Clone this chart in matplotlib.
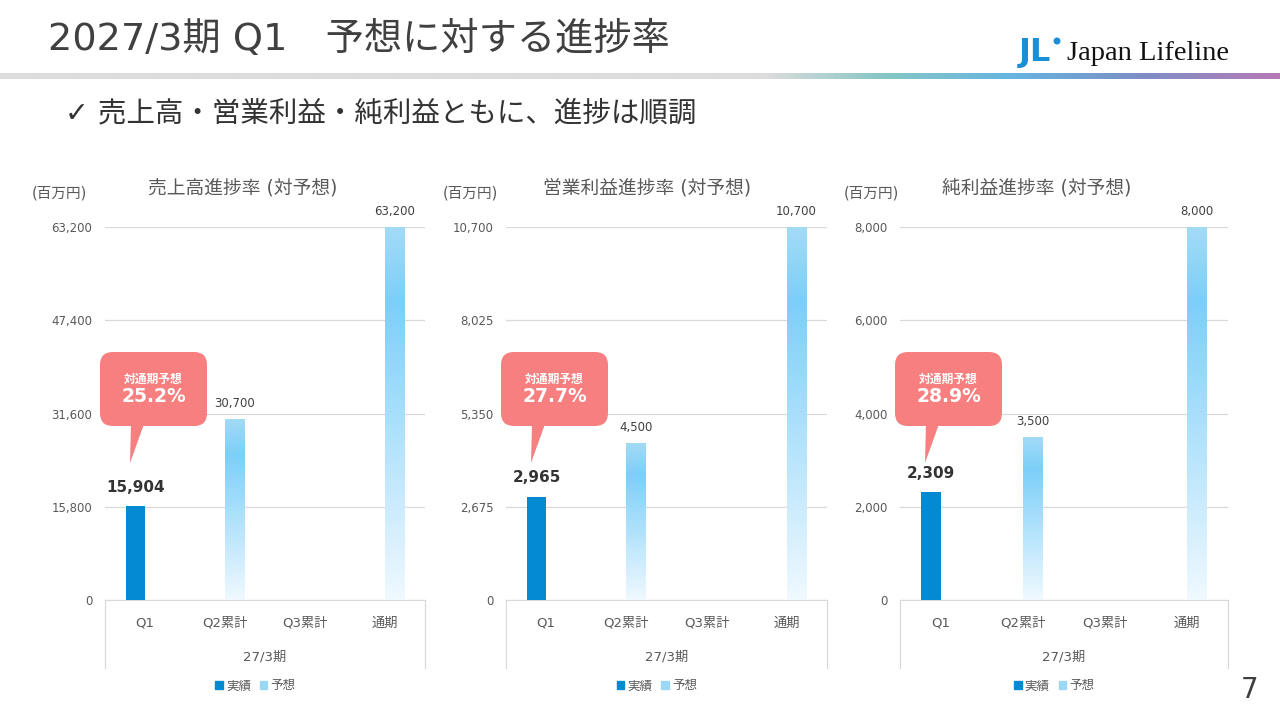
"""Progress vs forecast, FY2027/3 Q1 (three panel bar chart)"""

import numpy as np
import matplotlib.pyplot as plt
from matplotlib.colors import LinearSegmentedColormap
from matplotlib.patches import FancyBboxPatch, Polygon, Patch, Circle

# DejaVu for latin/digits (close to the Verdana-like look), CJK falls back to Noto
plt.rcParams['font.family'] = ['DejaVu Sans', 'Noto Sans CJK JP']

# ---- data ----
categories = ['Q1', 'Q2累計', 'Q3累計', '通期']
period_label = '27/3期'
chart_titles = ['売上高進捗率 (対予想)', '営業利益進捗率 (対予想)', '純利益進捗率 (対予想)']
unit_label = '(百万円)'
legend_labels = ['実績', '予想']

sales_actual = [15904, np.nan, np.nan, np.nan]
sales_forecast = [np.nan, 30700, np.nan, 63200]
op_actual = [2965, np.nan, np.nan, np.nan]
op_forecast = [np.nan, 4500, np.nan, 10700]
net_actual = [2309, np.nan, np.nan, np.nan]
net_forecast = [np.nan, 3500, np.nan, 8000]

sales_ticks = [0, 15800, 31600, 47400, 63200]
op_ticks = [0, 2675, 5350, 8025, 10700]
net_ticks = [0, 2000, 4000, 6000, 8000]

title_text = '2027/3期 Q1\u3000予想に対する進捗率'
subtitle_text = '✓ 売上高・営業利益・純利益ともに、進捗は順調'
callout_caption = '対通期予想'
page_number = '7'

# ---- style ----
ACTUAL_COLOR = '#038ad0'
FORECAST_SWATCH = '#9ad8f6'
CALLOUT_COLOR = '#f77f7f'
GRID_COLOR = '#d9d9d9'
TEXT_GRAY = '#595959'
fc_cmap = LinearSegmentedColormap.from_list(
    'fc', [(0.0, '#a3dbf6'), (0.2, '#7ccff9'), (1.0, '#f0f9ff')])
band_cmap = LinearSegmentedColormap.from_list(
    'band', [(0.0, '#dcdcdc'), (0.6, '#dcdcdc'), (0.69, '#87c7c4'),
             (0.79, '#66b5e0'), (0.89, '#7c8fc6'), (1.0, '#b57ab5')])

W, H = 1280, 720
# axes extents in pixels: (left, right)
panel_x = [(105, 425), (506, 827), (900, 1228)]
AX_TOP, AX_BOTTOM = 227, 600
title_pos = [243, 647, 1037]
unit_pos = [59, 470, 871]
BAR_W = 0.24

fig = plt.figure(figsize=(12.8, 7.2), dpi=100)

panels = [(sales_actual, sales_forecast, sales_ticks),
          (op_actual, op_forecast, op_ticks),
          (net_actual, net_forecast, net_ticks)]
axes = []
x = np.arange(len(categories))
grad = np.linspace(0, 1, 256).reshape(-1, 1)
ax_h = AX_BOTTOM - AX_TOP

for (act, fc, ticks), (l, r) in zip(panels, panel_x):
    ax = fig.add_axes([l / W, 1 - AX_BOTTOM / H, (r - l) / W, ax_h / H])
    axes.append(ax)
    act = np.array(act, dtype=float)
    fc = np.array(fc, dtype=float)

    ax.bar(x - BAR_W / 2, act, width=BAR_W, color=ACTUAL_COLOR, zorder=3)
    fbars = ax.bar(x + BAR_W / 2, fc, width=BAR_W, color='none', zorder=3)
    for p in fbars.patches:
        hgt = p.get_height()
        if not np.isfinite(hgt):
            continue
        x0 = p.get_x()
        im = ax.imshow(grad, cmap=fc_cmap, aspect='auto', origin='upper',
                       extent=(x0, x0 + p.get_width(), 0, hgt), zorder=3)
        im.set_clip_path(p)

    # value labels
    for xi, v in zip(x, act):
        if np.isfinite(v):
            ax.annotate(f'{int(v):,}', (xi - BAR_W / 2, v), xytext=(0, 13.5),
                        textcoords='offset points', ha='center', va='center',
                        fontsize=11, fontweight='bold', color='#333333')
    for xi, v in zip(x, fc):
        if np.isfinite(v):
            ax.annotate(f'{int(v):,}', (xi + BAR_W / 2, v), xytext=(0, 11),
                        textcoords='offset points', ha='center', va='center',
                        fontsize=8.5, color='#404040')

    ax.set_xlim(-0.5, len(categories) - 0.5)
    ax.set_ylim(0, ticks[-1])
    ax.set_yticks(ticks)
    ax.set_yticklabels([f'{t:,}' for t in ticks])
    ax.set_xticks(x)
    ax.set_xticklabels(categories)
    ax.tick_params(axis='y', length=0, pad=9, labelsize=8.5, labelcolor=TEXT_GRAY)
    ax.tick_params(axis='x', length=0, pad=12, labelsize=9.5, labelcolor=TEXT_GRAY)
    ax.yaxis.grid(True, color=GRID_COLOR, lw=0.9)
    ax.set_axisbelow(True)
    for s in ['top', 'left', 'right']:
        ax.spines[s].set_visible(False)
    ax.spines['bottom'].set_color(GRID_COLOR)

    # multi-level category box
    for xe in (0, 1):
        ax.plot([xe, xe], [0, -68 / ax_h], transform=ax.transAxes,
                clip_on=False, color=GRID_COLOR, lw=0.9)
    ax.text(0.5, -57 / ax_h, period_label, transform=ax.transAxes,
            ha='center', va='center', fontsize=9.5, color=TEXT_GRAY)

    ax.legend(handles=[Patch(color=ACTUAL_COLOR, label=legend_labels[0]),
                       Patch(color=FORECAST_SWATCH, label=legend_labels[1])],
              loc='center', bbox_to_anchor=(0.47, -86 / ax_h),
              ncol=2, frameon=False, fontsize=9, labelcolor=TEXT_GRAY,
              handlelength=0.6, handleheight=0.6, handletextpad=0.25,
              columnspacing=0.7)

# ---- overlay in pixel coordinates for slide decorations ----
ov = fig.add_axes([0, 0, 1, 1])
ov.axis('off')

ov.text(48, 39, title_text, fontsize=27.5, color='#404040', va='center', ha='left')
ov.imshow(np.linspace(0, 1, 512).reshape(1, -1), cmap=band_cmap, aspect='auto',
          extent=(0, W, 79, 73))
ov.set_xlim(0, W)
ov.set_ylim(H, 0)

# logo
ov.text(1019, 52, 'JL', fontsize=23, fontweight='heavy', color='#1a8fd6',
        va='center', ha='left')
ov.add_patch(Circle((1057, 41), 2.8, color='#1a8fd6'))
ov.text(1067, 53, 'Japan Lifeline', fontsize=20.5, color='#111111',
        va='center', ha='left', family=['Liberation Serif'])

ov.text(65, 113, subtitle_text, fontsize=20.5, color='#333333', va='center', ha='left')
ov.text(1250, 690, page_number, fontsize=20, color='#404040', va='center', ha='center')

for i, (l, r) in enumerate(panel_x):
    ov.text(title_pos[i], 188, chart_titles[i], fontsize=13.5, color=TEXT_GRAY,
            ha='center', va='center')
    ov.text(unit_pos[i], 193, unit_label, fontsize=10.5, color=TEXT_GRAY,
            ha='center', va='center')

    act, fc, _ = panels[i]
    pct = act[0] / fc[3] * 100
    ov.add_patch(FancyBboxPatch((l - 5, 352), 107, 74,
                                boxstyle='round,pad=0,rounding_size=13',
                                facecolor=CALLOUT_COLOR, edgecolor='none'))
    ov.add_patch(Polygon([(l + 26, 424), (l + 39, 424), (l + 25, 463)],
                         closed=True, facecolor=CALLOUT_COLOR, edgecolor='none'))
    ov.text(l + 48.5, 379, callout_caption, fontsize=8.5, fontweight='bold',
            color='white', ha='center', va='center')
    ov.text(l + 48.5, 397, f'{pct:.1f}%', fontsize=13.5, fontweight='bold',
            color='white', ha='center', va='center')

fig.savefig('out.png', dpi=100)
